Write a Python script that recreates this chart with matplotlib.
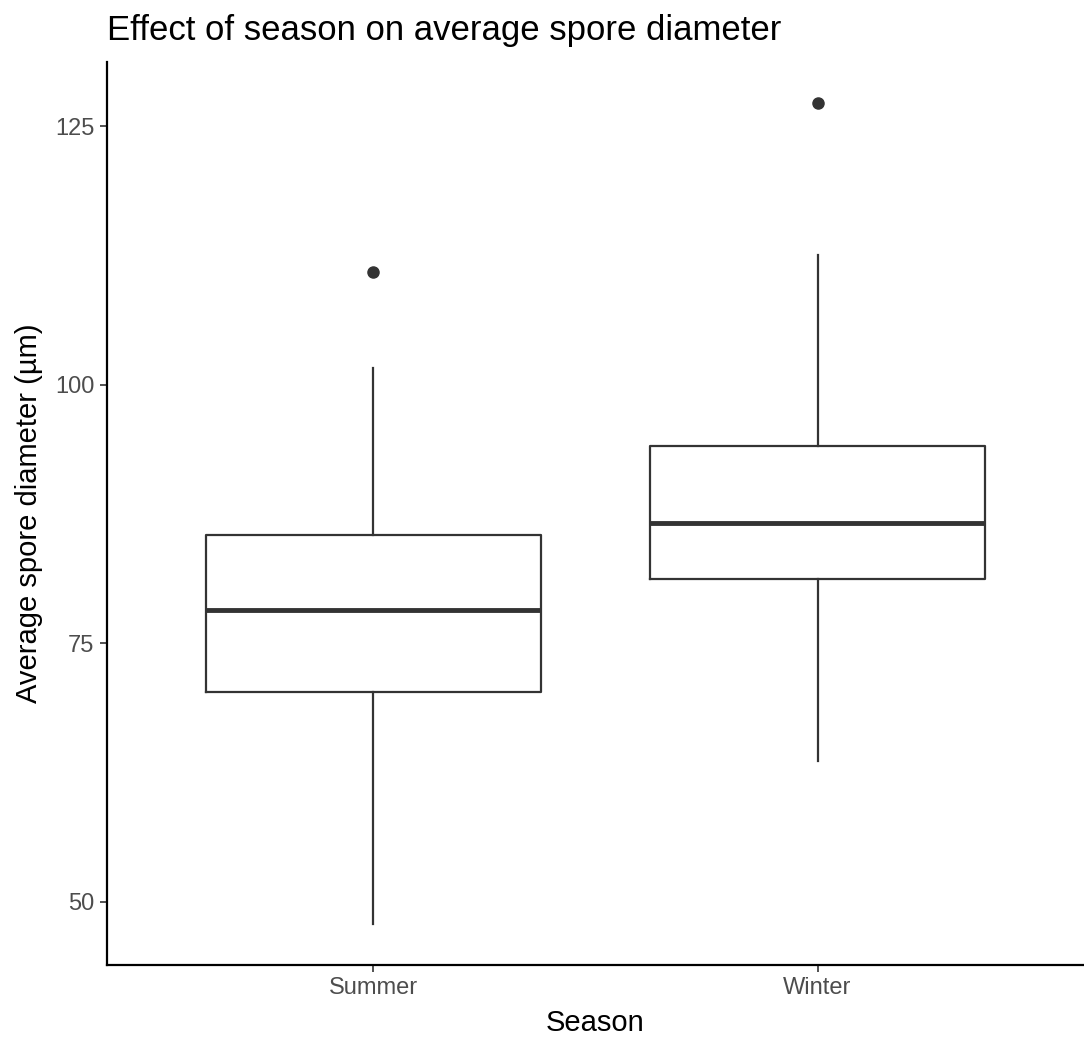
import matplotlib.pyplot as plt

plt.rcParams['font.family'] = ['Liberation Sans', 'DejaVu Sans']

# values
seasons = ['Summer', 'Winter']
whisker_low = [47.9, 63.6]
q1 = [70.3, 81.2]
median = [78.2, 86.6]
q3 = [85.5, 94.1]
whisker_high = [101.6, 112.5]
outliers = [[110.9], [127.2]]

stats = []
for i, name in enumerate(seasons):
    stats.append({'label': name, 'whislo': whisker_low[i], 'q1': q1[i],
                  'med': median[i], 'q3': q3[i], 'whishi': whisker_high[i],
                  'fliers': outliers[i]})

fig = plt.figure(figsize=(10.84, 10.41), dpi=100)
ax = fig.add_axes([107/1084, 1 - 965/1041, 1 - 107/1084, (965 - 62)/1041])

ink = '#333333'
ax.bxp(stats, positions=[1, 2], widths=0.755, showcaps=False,
       boxprops=dict(color=ink, linewidth=1.6),
       whiskerprops=dict(color=ink, linewidth=1.6),
       medianprops=dict(color=ink, linewidth=3.5),
       flierprops=dict(marker='o', markerfacecolor=ink, markeredgecolor=ink,
                       markersize=8))

ax.set_xlim(0.4, 2.6)
ax.set_ylim(43.9, 131.2)
ax.set_yticks([50, 75, 100, 125])

for s in ['top', 'right']:
    ax.spines[s].set_visible(False)
for s in ['left', 'bottom']:
    ax.spines[s].set_linewidth(1.6)
    ax.spines[s].set_color('black')

ax.tick_params(axis='both', length=5, width=1.2, color='#333333',
               labelsize=17, labelcolor='#4d4d4d', pad=4)

ax.set_xlabel('Season', fontsize=21, color='black', labelpad=7)
ax.set_ylabel('Average spore diameter (µm)', fontsize=21, color='black', labelpad=9)
ax.set_title('Effect of season on average spore diameter', loc='left',
             fontsize=25, pad=16)

fig.savefig('out.png', dpi=100)
